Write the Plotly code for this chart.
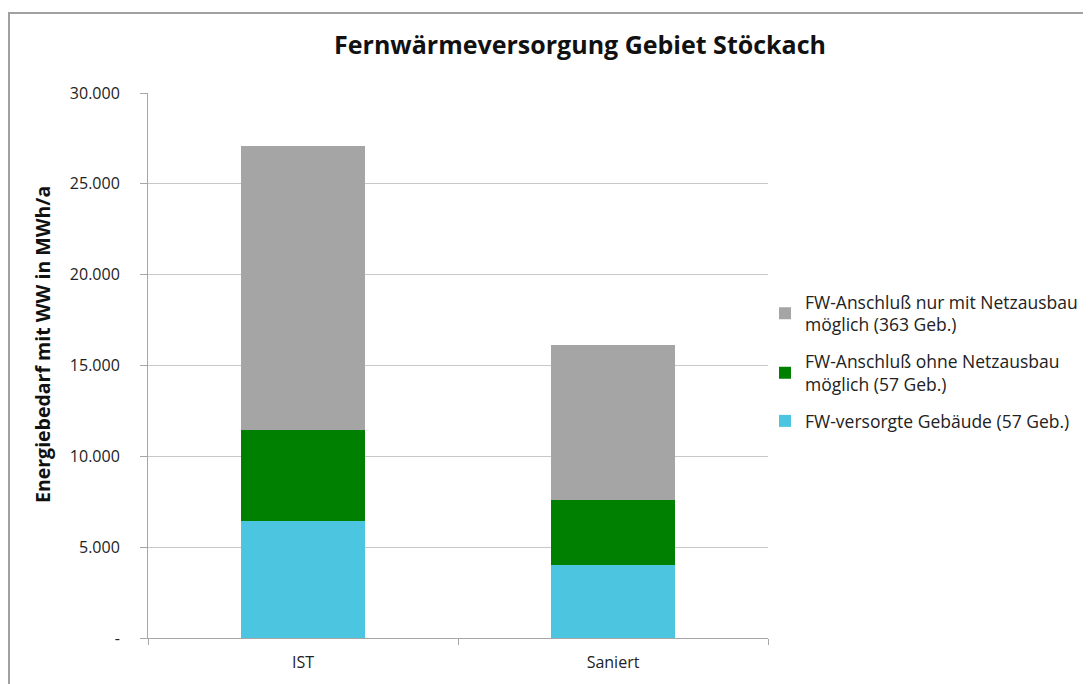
import plotly.graph_objects as go

categories = ["IST", "Saniert"]
versorgt = [6460, 4020]
ohne_netzausbau = [4990, 3560]
mit_netzausbau = [15650, 8570]

names = [
    "FW-versorgte Gebäude (57 Geb.)",
    "FW-Anschluß ohne Netzausbau<br>möglich (57 Geb.)",
    "FW-Anschluß nur mit Netzausbau<br>möglich (363 Geb.)",
]
colors = ["#4BC5E0", "#008000", "#A5A5A5"]
series = [versorgt, ohne_netzausbau, mit_netzausbau]

tickvals = [0, 5000, 10000, 15000, 20000, 25000, 30000]
ticktext = ["-", "5.000", "10.000", "15.000", "20.000", "25.000", "30.000"]

FONT = "'Open Sans', sans-serif"

fig = go.Figure()
for i, (name, vals, col) in enumerate(zip(names, series, colors)):
    fig.add_trace(go.Bar(x=categories, y=vals, name=name, marker_color=col,
                         marker_line_width=0, legendgroup=f"g{i}",
                         legendrank=10 - i))

W, H = 1091, 684
L, T = 140, 85
PR, PB = 760, 630
R, B = W - PR, H - PB
pw, ph = PR - L, PB - T

fig.update_layout(
    width=W, height=H,
    barmode="stack", bargap=0.6,
    paper_bgcolor="white", plot_bgcolor="white",
    margin=dict(l=L, r=R, t=T, b=B, autoexpand=False),
    font=dict(family=FONT, size=14, color="#222"),
    title=dict(text="<b>Fernwärmeversorgung Gebiet Stöckach</b>",
               x=572 / W, xanchor="center", y=1 - 37 / H, yanchor="middle",
               font=dict(size=25, color="#111", family=FONT)),
    legend=dict(traceorder="grouped", x=(757 - L) / pw, xanchor="left",
                y=(PB - 276) / ph, yanchor="top",
                font=dict(size=17.5, color="#222", family=FONT),
                itemsizing="constant", tracegroupgap=11, bgcolor="rgba(0,0,0,0)"),
    xaxis=dict(showline=True, linecolor="#A6A6A6", linewidth=1,
               ticks="outside", tickson="boundaries", ticklen=6, tickcolor="#A6A6A6",
               tickfont=dict(size=16, color="#222"), showgrid=False,
               ticklabelstandoff=10),
    yaxis=dict(range=[0, 30000], tickvals=tickvals, ticktext=ticktext,
               showline=True, linecolor="#A6A6A6", linewidth=1,
               ticks="outside", ticklen=7, tickcolor="#A6A6A6",
               showgrid=True, gridcolor="#C8C8C8", gridwidth=1,
               tickfont=dict(size=16, color="#222"), zeroline=False,
               ticklabelstandoff=17),
)

# y-axis title as rotated annotation (slightly above plot centre, as in the reference)
fig.add_annotation(text="<b>Energiebedarf mit WW in MWh/a</b>", textangle=-90,
                   xref="paper", yref="paper",
                   x=(34 - L) / pw, y=(PB - 337) / ph,
                   xanchor="center", yanchor="middle", showarrow=False,
                   font=dict(size=19.5, color="#111", family=FONT))

# decorative outer frame (left and top edges visible in the reference)
fig.add_shape(type="rect", xref="paper", yref="paper",
              x0=(1 - L) / pw, x1=(W + 30 - L) / pw,
              y0=(PB - (H + 30)) / ph, y1=(PB - 5) / ph,
              line=dict(color="#A0A0A0", width=2), fillcolor="rgba(0,0,0,0)", layer="below")

fig.write_html("out.html")
